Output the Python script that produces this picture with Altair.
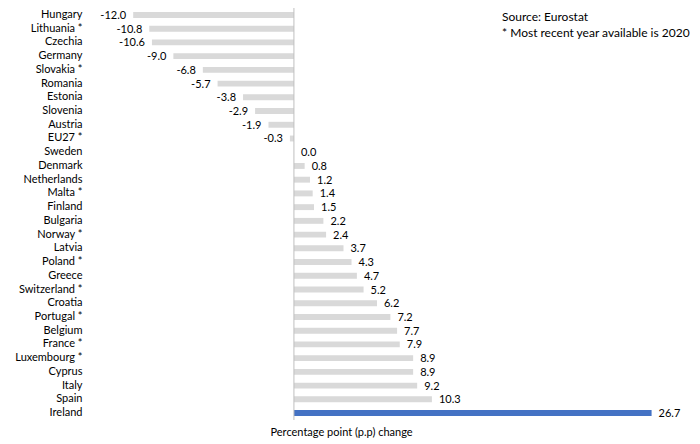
import altair as alt
import pandas as pd

countries = ["Hungary", "Lithuania *", "Czechia", "Germany", "Slovakia *", "Romania",
             "Estonia", "Slovenia", "Austria", "EU27 *", "Sweden", "Denmark",
             "Netherlands", "Malta *", "Finland", "Bulgaria", "Norway *", "Latvia",
             "Poland *", "Greece", "Switzerland *", "Croatia", "Portugal *", "Belgium",
             "France *", "Luxembourg *", "Cyprus", "Italy", "Spain", "Ireland"]
values = [-12.0, -10.8, -10.6, -9.0, -6.8, -5.7, -3.8, -2.9, -1.9, -0.3, 0.0, 0.8,
          1.2, 1.4, 1.5, 2.2, 2.4, 3.7, 4.3, 4.7, 5.2, 6.2, 7.2, 7.7, 7.9, 8.9, 8.9,
          9.2, 10.3, 26.7]
highlight = ["Ireland"]
notes = ["Source: Eurostat", "* Most recent year available is 2020"]

df = pd.DataFrame({"country": countries, "value": values})
df["hl"] = df["country"].isin(highlight)
df["pos"] = df["value"] >= 0
df["label"] = [f"{v:.1f}" for v in values]

FONT = "Lato"

x_enc = alt.X("value:Q", scale=alt.Scale(domain=[-15, 28], nice=False, zero=False),
              axis=alt.Axis(labels=False, ticks=False, domain=False, grid=False,
                            title="Percentage point (p.p) change", titleFont=FONT,
                            titleFontSize=11, titleFontWeight="normal", titleColor="#000000",
                            titleAnchor="start", titleX=177, titleY=16,
                            titleBaseline="middle"))
y_enc = alt.Y("country:N", sort=countries,
              scale=alt.Scale(paddingInner=0.57, paddingOuter=0),
              axis=alt.Axis(title=None, ticks=False, domain=False, grid=False,
                            labelFont=FONT, labelFontSize=11, labelColor="#000000",
                            labelPadding=11))

base = alt.Chart(df)

bars = base.mark_bar().encode(
    x=x_enc,
    x2=alt.datum(0),
    y=y_enc,
    color=alt.condition(alt.datum.hl, alt.value("#4472c4"), alt.value("#d9d9d9")),
)

zero = alt.Chart(pd.DataFrame({"z": [0]})).mark_rule(color="#bfbfbf", strokeWidth=1).encode(
    x="z:Q", y=alt.value(-4), y2=alt.value(408)
)

lab_pos = base.transform_filter(alt.datum.pos).mark_text(
    align="left", dx=7, dy=1, font=FONT, fontSize=11, color="#000000"
).encode(x="value:Q", y=alt.Y("country:N", sort=countries), text="label:N")

lab_neg = base.transform_filter("!datum.pos").mark_text(
    align="right", dx=-7, dy=1, font=FONT, fontSize=11, color="#000000"
).encode(x="value:Q", y=alt.Y("country:N", sort=countries), text="label:N")

note_layers = []
for i, t in enumerate(notes):
    note_layers.append(
        alt.Chart(pd.DataFrame({"t": [t]})).mark_text(
            align="left", baseline="middle", font=FONT, fontSize=12, color="#000000"
        ).encode(x=alt.value(409), y=alt.value(5 + 16 * i), text="t:N")
    )

chart = alt.layer(bars, zero, lab_pos, lab_neg, *note_layers).properties(
    width=576, height=404,
    autosize=alt.AutoSizeParams(type="none"),
    padding={"top": 4, "left": 85, "right": 22, "bottom": 24},
).configure_view(stroke=None)

chart.save("out.html", embed_options={"renderer": "svg", "actions": False})
